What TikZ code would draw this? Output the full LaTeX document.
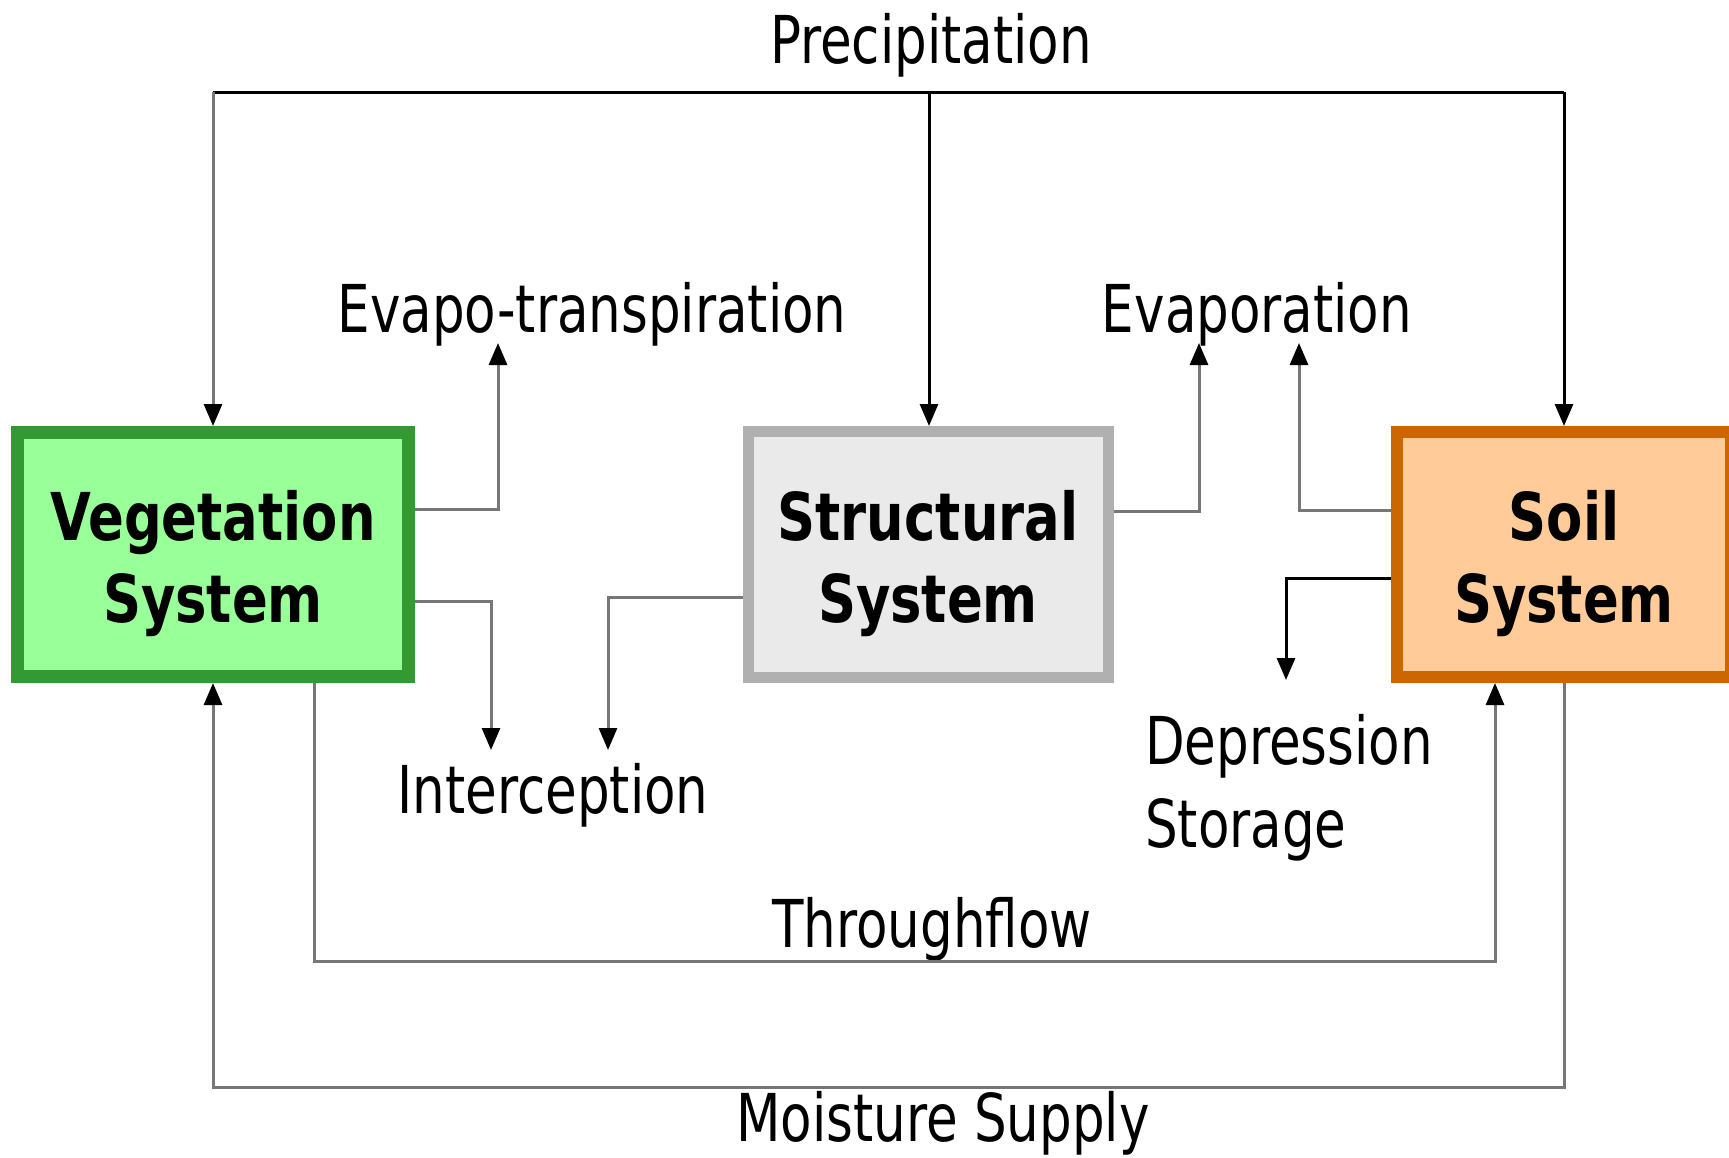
\documentclass[tikz,border=0pt]{standalone}
\usepackage{fontspec}
\setmainfont[FakeStretch=0.78]{DejaVu Sans}
\newfontfamily\boxfont[FakeStretch=0.80]{DejaVu Sans}
\usetikzlibrary{arrows.meta}
\definecolor{vegfill}{HTML}{99FF99}
\definecolor{vegdraw}{HTML}{339933}
\definecolor{strfill}{HTML}{EAEAEA}
\definecolor{strdraw}{HTML}{B0B0B0}
\definecolor{soilfill}{HTML}{FFCC99}
\definecolor{soildraw}{HTML}{CC6600}
\definecolor{lingray}{HTML}{777777}
\tikzset{
  sysbox/.style={rectangle, inner sep=0pt},
  systext/.style={inner sep=0pt, align=center,
    font=\boxfont\bfseries\fontsize{66}{82}\selectfont},
  lbl/.style={inner sep=0pt, font=\fontsize{66}{83}\selectfont},
  blk/.style={draw=black, line width=3pt, -{Triangle[width=18pt,length=22pt]}},
  gry/.style={draw=lingray, line width=3pt, -{Triangle[width=18pt,length=22pt,fill=black,color=black]}},
}
\begin{document}
\begin{tikzpicture}[x=1pt,y=-1pt]
\useasboundingbox (0,0) rectangle (1729,1157);
\clip (0,0) rectangle (1729,1157);
% boxes
\node[sysbox, fill=vegfill, draw=vegdraw, line width=13pt, minimum width=391pt, minimum height=244pt] (veg) at (213,554.5) {};
\node[sysbox, fill=strfill, draw=strdraw, line width=11pt, minimum width=360pt, minimum height=246pt] (str) at (928,554.5) {};
\node[sysbox, fill=soilfill, draw=soildraw, line width=12pt, minimum width=334pt, minimum height=245pt] (soil) at (1564,554.5) {};
\node[systext, yshift=-9pt] (vegtxt) at (veg.center) {Vegetation\\System};
\node[systext, yshift=-9pt] (strtxt) at (str.center) {Structural\\System};
\node[systext, yshift=-9pt] (soiltxt) at (soil.center) {Soil\\System};
% labels
\node[lbl, anchor=base] (prec) at (931,63) {Precipitation};
\node[lbl, anchor=base] (evt) at (592,332) {Evapo-transpiration};
\node[lbl, anchor=base] (evap) at (1257,332) {Evaporation};
\node[lbl, anchor=base] (intc) at (553,813) {Interception};
\node[lbl, anchor=base west, align=left] (dep) at (1145,764) {Depression};
\node[lbl, anchor=base west, align=left] (stor) at (1145,847) {Storage};
\node[lbl, anchor=base] (thr) at (932,947) {Throughflow};
\node[lbl, anchor=base] (moist) at (943,1141) {Moisture Supply};
% coordinates
\coordinate (pj) at (929,92);
\coordinate (evtip) at (498,343);
\coordinate (icl) at (491,750);
\coordinate (icr) at (608,750);
\coordinate (evl) at (1199,343);
\coordinate (evr) at (1299,343);
\coordinate (dtip) at (1286,680);
\coordinate (tf1) at (314,961);
\coordinate (tf2) at (1495,961);
\coordinate (ms1) at (1564,1087);
\coordinate (ms2) at (213,1087);
% precipitation
\draw[blk, -] (veg.north |- pj) -- (soil.north |- pj);
\draw[blk] (pj) -- (str.north -| pj);
\draw[gry] (veg.north |- pj) -- (veg.north);
\draw[blk] (soil.north |- pj) -- (soil.north);
% evapo-transpiration
\draw[gry] (veg.east |- 0,509) -| (evtip);
% interception
\draw[gry] (veg.east |- 0,601) -| (icl);
\draw[gry] (str.west |- 0,597) -| (icr);
% evaporation
\draw[gry] (str.east |- 0,511) -| (evl);
\draw[gry] (soil.west |- 0,510) -| (evr);
% depression storage
\draw[blk] (soil.west |- 0,578) -| (dtip);
% throughflow
\draw[gry] (veg.south -| tf1) -- (tf1) -- (tf2) -- (soil.south -| tf2);
% moisture supply
\draw[gry] (soil.south) -- (ms1) -- (ms2) -- (veg.south);
\end{tikzpicture}
\end{document}
